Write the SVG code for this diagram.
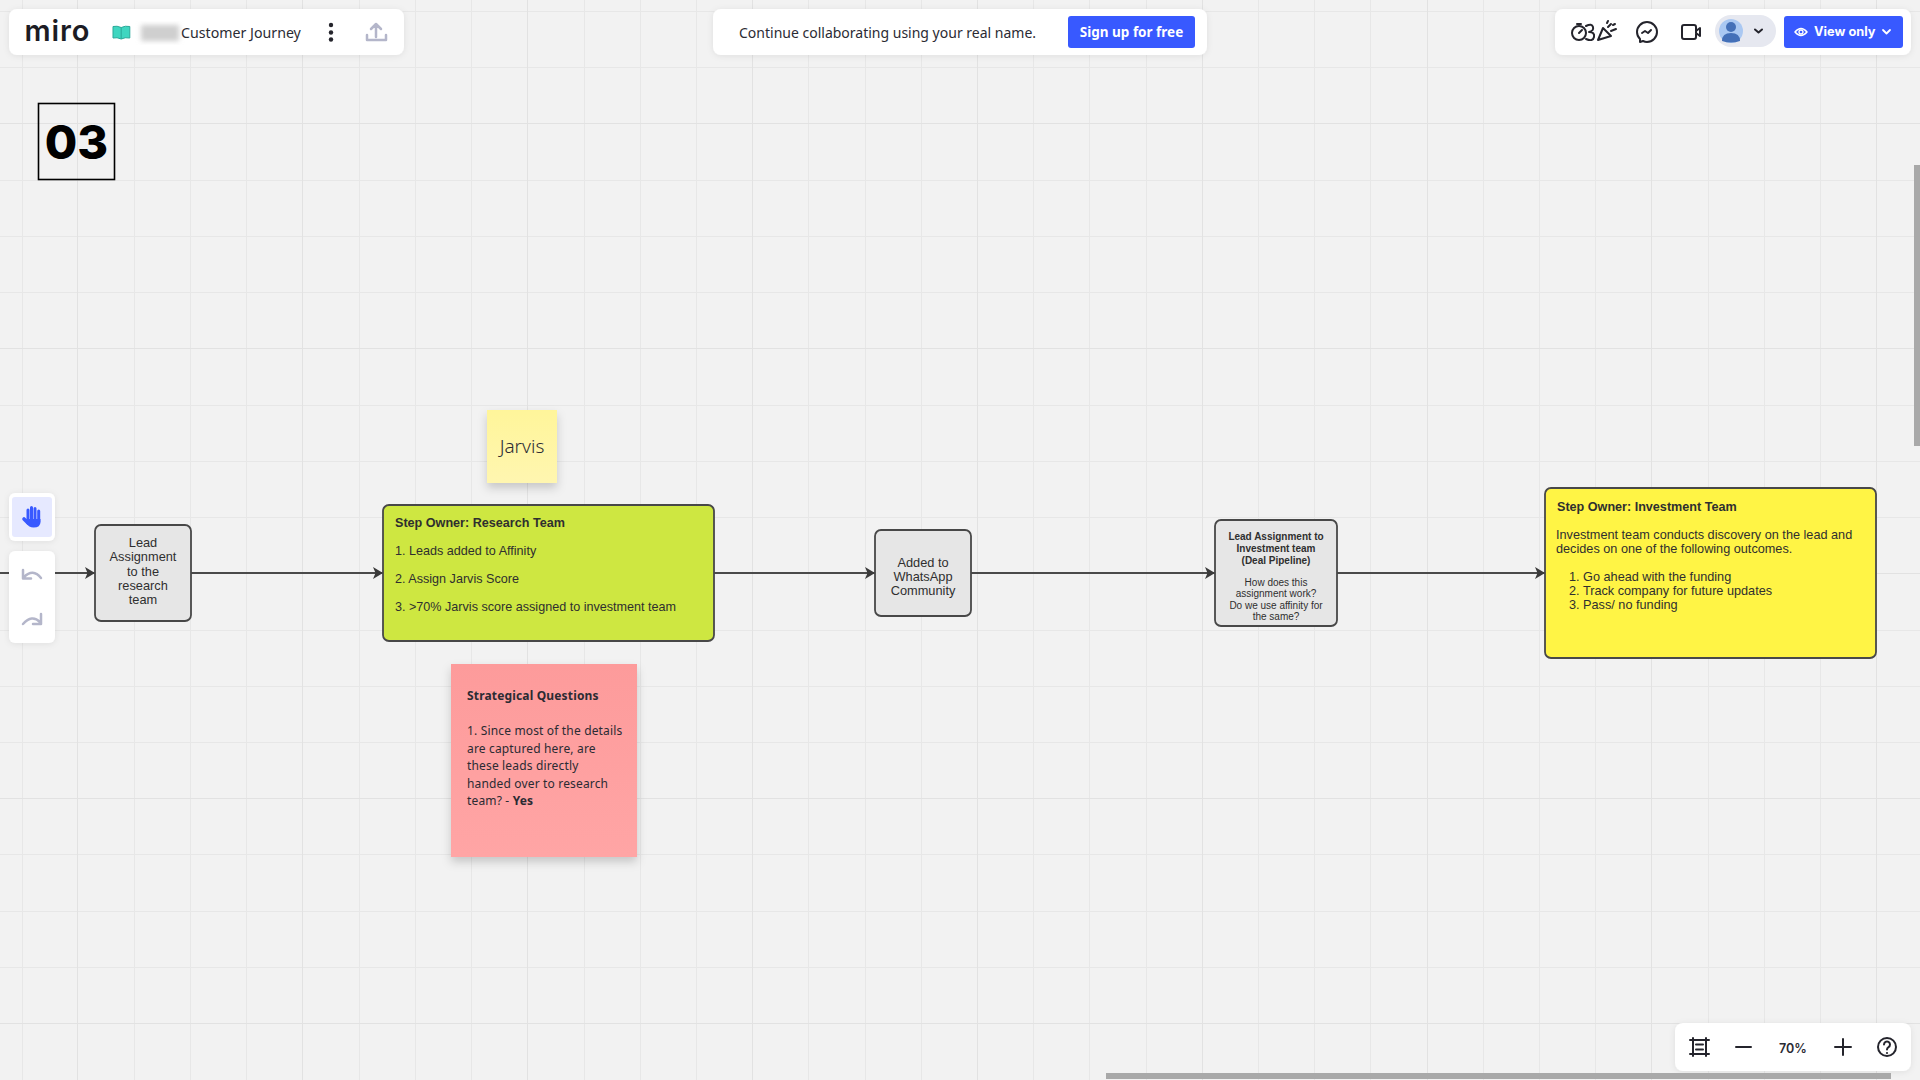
<svg xmlns="http://www.w3.org/2000/svg" width="1920" height="1080" viewBox="0 0 1920 1080">
<style>
.ar{font-family:"Liberation Sans",Arial,sans-serif;fill:#2f2f2f}
.os{font-family:"Noto Sans","Open Sans",sans-serif;fill:#2b2b33}
.node{fill:#e6e6e6;stroke:#484848;stroke-width:1.800}
.bar{fill:#fff;filter:url(#sh)}
.conn{fill:none;stroke:#4a4a4a;stroke-width:2;marker-end:url(#arrow)}
.ic{fill:none;stroke:#24242c;stroke-width:2;stroke-linecap:round;stroke-linejoin:round}
.ig{fill:none;stroke:#b4b6ca;stroke-width:2.500;stroke-linecap:round;stroke-linejoin:round}
.c{text-anchor:middle}
.minor{fill:none;stroke:#e7e7e7;stroke-width:1}
.major{fill:none;stroke:#e2e2e2;stroke-width:1}
</style>
<defs>
<marker id="arrow" markerUnits="userSpaceOnUse" markerWidth="11" markerHeight="12" refX="10" refY="6" orient="auto"><path d="M0 0L10 6L0 12L2.500 6Z" fill="#3a3a3a"/></marker>
<filter id="sh" x="-10%" y="-30%" width="120%" height="170%"><feDropShadow dx="0" dy="1" stdDeviation="3" flood-color="#000" flood-opacity=".08"/></filter>
<filter id="stk" x="-20%" y="-20%" width="140%" height="150%"><feDropShadow dx="0" dy="5" stdDeviation="5" flood-color="#000" flood-opacity=".18"/></filter>
<filter id="blur" x="-20%" y="-20%" width="140%" height="140%"><feGaussianBlur stdDeviation="2.500"/></filter>
<linearGradient id="py" x1="0" y1="0" x2="0" y2="1"><stop offset="0" stop-color="#fff59a"/><stop offset="1" stop-color="#fff6b0"/></linearGradient>
<linearGradient id="pk" x1="0" y1="0" x2="0" y2="1"><stop offset="0" stop-color="#fd9b9b"/><stop offset="1" stop-color="#ffa5a5"/></linearGradient>
</defs>

<rect id="background" width="1920" height="1080" fill="#f2f2f2"/>
<path class="minor" d="M22.500 0V1080M134.500 0V1080M190.500 0V1080M246.500 0V1080M359.500 0V1080M415.500 0V1080M471.500 0V1080M584.500 0V1080M640.500 0V1080M696.500 0V1080M808.500 0V1080M865.500 0V1080M921.500 0V1080M1033.500 0V1080M1089.500 0V1080M1146.500 0V1080M1258.500 0V1080M1314.500 0V1080M1370.500 0V1080M1483.500 0V1080M1539.500 0V1080M1595.500 0V1080M1708.500 0V1080M1764.500 0V1080M1820.500 0V1080M0 11.500H1920M0 67.500H1920M0 180.500H1920M0 236.500H1920M0 292.500H1920M0 405.500H1920M0 461.500H1920M0 517.500H1920M0 630.500H1920M0 686.500H1920M0 742.500H1920M0 854.500H1920M0 911.500H1920M0 967.500H1920"/>
<path class="major" d="M77.500 0V1080M302.500 0V1080M527.500 0V1080M752.500 0V1080M977.500 0V1080M1202.500 0V1080M1427.500 0V1080M1651.500 0V1080M1876.500 0V1080M0 123.500H1920M0 348.500H1920M0 573.500H1920M0 798.500H1920M0 1023.500H1920"/>

<g id="connectors">
<path class="conn" d="M0 573H95"/>
<path class="conn" d="M191 573H383"/>
<path class="conn" d="M714 573H875"/>
<path class="conn" d="M971 573H1215"/>
<path class="conn" d="M1337 573H1545"/>
</g>

<g id="step-number">
<rect x="38.500" y="103.500" width="76" height="76" fill="none" stroke="#000" stroke-width="1.600"/>
<text x="76.500" y="158.500" class="c" font-family="Inter,sans-serif" font-weight="800" font-size="47" fill="#000">03</text>
</g>

<g id="node-lead-assignment">
<rect class="node" x="95" y="525" width="96" height="96" rx="6"/>
<g class="ar c" font-size="12.800">
<text x="143" y="547">Lead</text>
<text x="143" y="561">Assignment</text>
<text x="143" y="576">to the</text>
<text x="143" y="590">research</text>
<text x="143" y="604">team</text>
</g>
</g>

<g id="node-research-team">
<rect x="383" y="505" width="331" height="136" rx="6" fill="#cee741" stroke="#484848" stroke-width="1.800"/>
<text class="ar" x="395" y="527" font-size="12.600" font-weight="700" fill="#222">Step Owner: Research Team</text>
<g class="ar" font-size="12.600">
<text x="395" y="555">1. Leads added to Affinity</text>
<text x="395" y="583">2. Assign Jarvis Score</text>
<text x="395" y="611">3. &gt;70% Jarvis score assigned to investment team</text>
</g>
</g>

<g id="sticky-jarvis">
<rect x="487" y="410" width="70" height="73" fill="url(#py)" filter="url(#stk)"/>
<text class="os c" x="522" y="453" font-size="19" font-weight="300" fill="#333">Jarvis</text>
</g>

<g id="sticky-strategical">
<rect x="451" y="664" width="186" height="193" fill="url(#pk)" filter="url(#stk)"/>
<g class="os" font-size="12" fill="#333" letter-spacing=".16">
<text x="467" y="700" font-weight="700">Strategical Questions</text>
<text x="467" y="735">1. Since most of the details</text>
<text x="467" y="752.500">are captured here, are</text>
<text x="467" y="770">these leads directly</text>
<text x="467" y="787.500">handed over to research</text>
<text x="467" y="805">team? - <tspan font-weight="700">Yes</tspan></text>
</g>
</g>

<g id="node-whatsapp">
<rect class="node" x="875" y="530" width="96" height="86" rx="6"/>
<g class="ar c" font-size="12.800" fill="#444">
<text x="923" y="567">Added to</text>
<text x="923" y="581">WhatsApp</text>
<text x="923" y="595">Community</text>
</g>
</g>

<g id="node-deal-pipeline">
<rect class="node" x="1215" y="520" width="122" height="106" rx="6"/>
<g class="ar c" font-size="10" fill="#3a3a3a">
<g font-weight="700">
<text x="1276" y="540">Lead Assignment to</text>
<text x="1276" y="552">Investment team</text>
<text x="1276" y="563.500">(Deal Pipeline)</text>
</g>
<text x="1276" y="585.500">How does this</text>
<text x="1276" y="597">assignment work?</text>
<text x="1276" y="608.500">Do we use affinity for</text>
<text x="1276" y="619.500">the same?</text>
</g>
</g>

<g id="node-investment-team">
<rect x="1545" y="488" width="331" height="170" rx="6" fill="#fff445" stroke="#484848" stroke-width="1.800"/>
<text class="ar" x="1557" y="511" font-size="12.600" font-weight="700" fill="#222">Step Owner: Investment Team</text>
<g class="ar" font-size="12.700" fill="#444">
<text x="1556" y="539">Investment team conducts discovery on the lead and</text>
<text x="1556" y="553">decides on one of the following outcomes.</text>
<text x="1569" y="581">1. Go ahead with the funding</text>
<text x="1569" y="595">2. Track company for future updates</text>
<text x="1569" y="609">3. Pass/ no funding</text>
</g>
</g>

<g id="toolbar-board">
<rect class="bar" x="9" y="9" width="395" height="46" rx="8"/>
<text x="24.500" y="41" font-family="Inter,sans-serif" font-weight="600" font-size="29" fill="#1c1c24" textLength="65" lengthAdjust="spacing">miro</text>
<path d="M113 26.500q4-1 8.200 1 4-2 8.600-1V38q-4.600-1-8.600 1-4.200-2-8.200-1Z" fill="#3fd6c0" stroke="#2aa999" stroke-width="1"/>
<path d="M121.200 27.500V39" stroke="#2aa999" stroke-width="1" fill="none"/>
<rect x="141" y="25" width="38" height="16" fill="#cfcfcf" filter="url(#blur)"/>
<text class="os" x="181" y="38" font-size="14.200" fill="#3a3a44">Customer Journey</text>
<g fill="#24242c"><circle cx="331" cy="25" r="2.200"/><circle cx="331" cy="32.500" r="2.200"/><circle cx="331" cy="39.500" r="2.200"/></g>
<path class="ig" d="M376 37V25M371 29l5-5 5 5M367 35v5h19v-5"/>
</g>

<g id="toolbar-signup">
<rect class="bar" x="713" y="9" width="494" height="46" rx="8"/>
<text class="os" x="739" y="38" font-size="14" fill="#33333b">Continue collaborating using your real name.</text>
<rect x="1068" y="16" width="127" height="32" rx="3" fill="#3859ff"/>
<text class="os c" x="1131.500" y="37" font-size="13.500" font-weight="700" style="fill:#fff">Sign up for free</text>
</g>

<g id="toolbar-session">
<rect class="bar" x="1555" y="9" width="356" height="46" rx="8"/>
<circle class="ic" cx="1579" cy="33" r="7" stroke-width="1.800"/>
<path class="ic" stroke-width="1.800" d="M1579 33l3-3M1577 24h4M1586 26q6-3 7 1t-4 5q6 0 5 5t-8 2"/>
<path class="ic" stroke-width="1.800" d="M1598 40l13-4-8-8ZM1608 27l3-3M1611 31l5-2M1607 23l1-2M1613 25l2-1"/>
<path class="ic" d="M1640 39q-3-3-3-7a10 10 0 1 1 10 10q-2 0-4-1l-3 1ZM1642 33l3-2 3 2 3-3"/>
<path class="ic" d="M1684 25h10a2 2 0 0 1 2 2v10a2 2 0 0 1-2 2h-10a2 2 0 0 1-2-2V27a2 2 0 0 1 2-2ZM1696 31l4-3v8l-4-3"/>
<rect x="1715" y="15" width="61" height="32" rx="16" fill="#e6e8f0"/>
<circle cx="1731" cy="31" r="12" fill="#aac8f2"/>
<circle cx="1731" cy="27" r="5" fill="#4470b8"/>
<path d="M1722 41q0-8 9-8t9 8q-9 3-18 0Z" fill="#4470b8"/>
<path class="ic" stroke-width="1.600" d="M1755 29.500l3.500 3 3.500-3"/>
<rect x="1784" y="16" width="119" height="32" rx="3" fill="#3859ff"/>
<path d="M1795 32q6-7 12 0q-6 7-12 0Z" fill="none" stroke="#fff" stroke-width="1.400"/>
<circle cx="1801" cy="32" r="2" fill="none" stroke="#fff" stroke-width="1.300"/>
<text x="1814" y="36" font-family="Inter,sans-serif" font-weight="700" font-size="12.800" fill="#fff">View only</text>
<path d="M1883 30l3.500 3.500 3.500-3.500" fill="none" stroke="#fff" stroke-width="1.800" stroke-linecap="round" stroke-linejoin="round"/>
</g>

<g id="toolbar-tools">
<rect class="bar" x="9" y="493" width="46" height="48" rx="6"/>
<rect x="12" y="497" width="40" height="40" rx="3" fill="#e6e9ff"/>
<g fill="none" stroke="#3859ff" stroke-linecap="round">
<path stroke-width="3" d="M28 520V510M31.500 520V507.500M35 520V508.500M38.700 522V511"/>
<path stroke-width="3.600" d="M24 519l4 4"/>
</g>
<path d="M26 519h14.500v3q0 5.500-7 5.500-4.500 0-7.500-4.500Z" fill="#3859ff"/>
<rect class="bar" x="9" y="551" width="46" height="92" rx="6"/>
<path class="ig" d="M41 578q-8-10-17-1M23 570v8.500h8"/>
<path class="ig" d="M23 624q9-10 17-2M41 614v10h-8"/>
</g>

<g id="toolbar-zoom">
<rect class="bar" x="1675" y="1023" width="236" height="48" rx="8"/>
<path class="ic" d="M1693 1038v18M1706 1038v18M1690 1040h19M1690 1054h19M1696 1044.500h7M1696 1049.500h7"/>
<path class="ic" d="M1736 1047h15"/>
<text x="1793" y="1053" class="c" font-family="Inter,sans-serif" font-weight="600" font-size="12.500" fill="#2b2b33">70%</text>
<path class="ic" d="M1843 1039v16M1835 1047h16"/>
<circle class="ic" cx="1887" cy="1047" r="9"/>
<path class="ic" d="M1884 1044.500a3 3 0 1 1 4.500 2.600q-1.500 .9-1.500 2.400"/>
<circle cx="1887" cy="1053" r="1.100" fill="#24242c"/>
</g>

<g id="scrollbars" fill="#a9a9a9">
<rect x="1914" y="165" width="6" height="281"/>
<rect x="1106" y="1073" width="785" height="6"/>
</g>
</svg>
